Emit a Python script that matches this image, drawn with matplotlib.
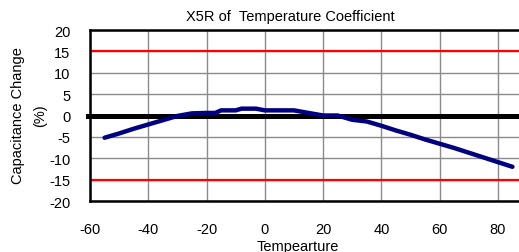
import matplotlib

matplotlib.use("Agg")
import matplotlib.pyplot as plt

plt.rcParams["font.family"] = ["Liberation Sans", "DejaVu Sans"]
plt.rcParams["axes.unicode_minus"] = False

# temperature (deg C) vs capacitance change (%)
TEMPERATURE = [-55, -50, -45, -40, -35, -30, -25, -20, -17, -15, -10, -8, -3, 0,
               5, 10, 15, 20, 25, 30, 35, 40, 45, 50, 55, 60, 65, 70, 75, 80, 85]
CAP_CHANGE = [-5.2, -4.2, -3.1, -2.1, -1.1, -0.1, 0.5, 0.6, 0.6, 1.2, 1.2, 1.6, 1.6, 1.2,
              1.2, 1.2, 0.6, 0.0, 0.0, -1.0, -1.4, -2.4, -3.5, -4.5, -5.6, -6.6, -7.6,
              -8.7, -9.8, -10.9, -12.0]
LIMITS = [15, -15]
X_TICKS = [-60, -40, -20, 0, 20, 40, 60, 80]
Y_TICKS = [-20, -15, -10, -5, 0, 5, 10, 15, 20]

fig = plt.figure(figsize=(5.19, 2.53), dpi=100)
ax = fig.add_axes([90 / 519, 51 / 253, 437 / 519, 171 / 253])

ax.set_xlim(-60, 90)
ax.set_ylim(-20, 20)
ax.set_xticks(X_TICKS)
ax.set_yticks(Y_TICKS)
ax.grid(True, color="#8a8a8a", linewidth=1.0)
ax.set_axisbelow(True)

for level in LIMITS:
    ax.axhline(level, color="#ff0000", linewidth=1.6, zorder=2)
ax.axhline(0, xmin=-0.005, color="black", linewidth=3.6, zorder=2, clip_on=False)

ax.plot(TEMPERATURE, CAP_CHANGE, color="#000080", linewidth=3.2,
        solid_capstyle="round", zorder=3)

for side in ["top", "left", "bottom"]:
    ax.spines[side].set_linewidth(1.8)
ax.spines["right"].set_visible(False)
ax.tick_params(length=0, labelsize=10.5)
ax.tick_params(axis="y", pad=14)
ax.tick_params(axis="x", pad=15)

fig.text(290 / 519, 1 - 17 / 253, "X5R of  Temperature Coefficient",
         ha="center", va="center", fontsize=10.5)
fig.text(298 / 519, 1 - 247 / 253, "Tempearture",
         ha="center", va="center", fontsize=10.5)
fig.text(29 / 519, 1 - 116 / 253, "Capacitance Change\n(%)",
         ha="center", va="center", rotation=90, fontsize=10.5, linespacing=1.7)

fig.savefig("out.png", dpi=100)
